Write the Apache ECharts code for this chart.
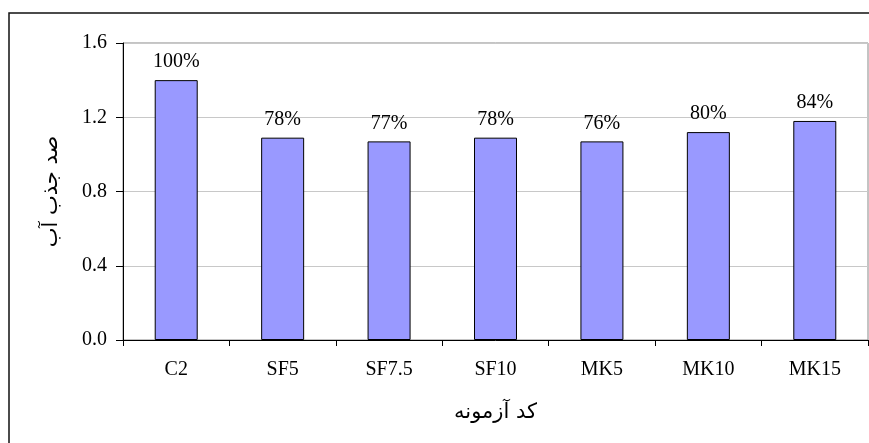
<!DOCTYPE html>
<html>
<head>
<meta charset="utf-8">
<script src="https://cdn.jsdelivr.net/npm/echarts@6/dist/echarts.min.js"></script>
<style>
html,body{margin:0;padding:0;background:#fff;}
#chart{width:869px;height:443px;}
</style>
</head>
<body>
<div id="chart"></div>
<script>
// ---- data ----
var categories = ['C2', 'SF5', 'SF7.5', 'SF10', 'MK5', 'MK10', 'MK15'];
var waterAbsorption = [1.40, 1.09, 1.07, 1.09, 1.07, 1.12, 1.18];
var percentLabels = ['100%', '78%', '77%', '78%', '76%', '80%', '84%'];
var yTicks = [0.0, 0.4, 0.8, 1.2, 1.6];
var xTitle = 'کد آزمونه';
var yTitle = 'صد جذب آب';

var FONT = '"Liberation Serif", "Times New Roman", serif';
var AFONT = '"DejaVu Sans", sans-serif';

var chart = echarts.init(document.getElementById('chart'), null, {renderer: 'canvas'});

var option = {
  animation: false,
  backgroundColor: '#ffffff',
  graphic: [{
    type: 'rect',
    shape: {x: 9, y: 13, width: 1000, height: 600},
    style: {fill: 'none', stroke: '#111', lineWidth: 1.5},
    silent: true,
    z: 0
  }],
  grid: {
    left: 123, right: 1, top: 43, bottom: 103,
    show: true, borderColor: '#888', borderWidth: 1, backgroundColor: 'transparent'
  },
  xAxis: {
    type: 'category',
    data: categories,
    name: xTitle,
    nameLocation: 'middle',
    nameGap: 62,
    nameTextStyle: {fontFamily: AFONT, fontSize: 21, color: '#000'},
    axisLine: {lineStyle: {color: '#000', width: 1}},
    axisTick: {show: true, length: 6, lineStyle: {color: '#000'}},
    axisLabel: {fontFamily: FONT, fontSize: 20, color: '#000', margin: 20},
    splitLine: {show: false}
  },
  yAxis: {
    type: 'value',
    min: yTicks[0],
    max: yTicks[yTicks.length - 1],
    interval: yTicks[1] - yTicks[0],
    name: yTitle,
    nameLocation: 'middle',
    nameGap: 61,
    nameTextStyle: {fontFamily: AFONT, fontSize: 21, color: '#000'},
    axisLine: {show: true, lineStyle: {color: '#000', width: 1}},
    axisTick: {show: true, length: 7, lineStyle: {color: '#000'}},
    axisLabel: {
      fontFamily: FONT, fontSize: 20, color: '#000', margin: 16,
      formatter: function (v) { return v.toFixed(1); }
    },
    splitLine: {show: true, lineStyle: {color: '#c8c8c8', width: 1}}
  },
  series: [{
    type: 'bar',
    data: waterAbsorption,
    barWidth: 43,
    itemStyle: {color: '#9999ff', borderColor: '#000', borderWidth: 1},
    label: {
      show: true,
      position: 'top',
      distance: 8,
      fontFamily: FONT,
      fontSize: 20,
      color: '#000',
      formatter: function (p) { return percentLabels[p.dataIndex]; }
    }
  }]
};
chart.setOption(option);
</script>
</body>
</html>
